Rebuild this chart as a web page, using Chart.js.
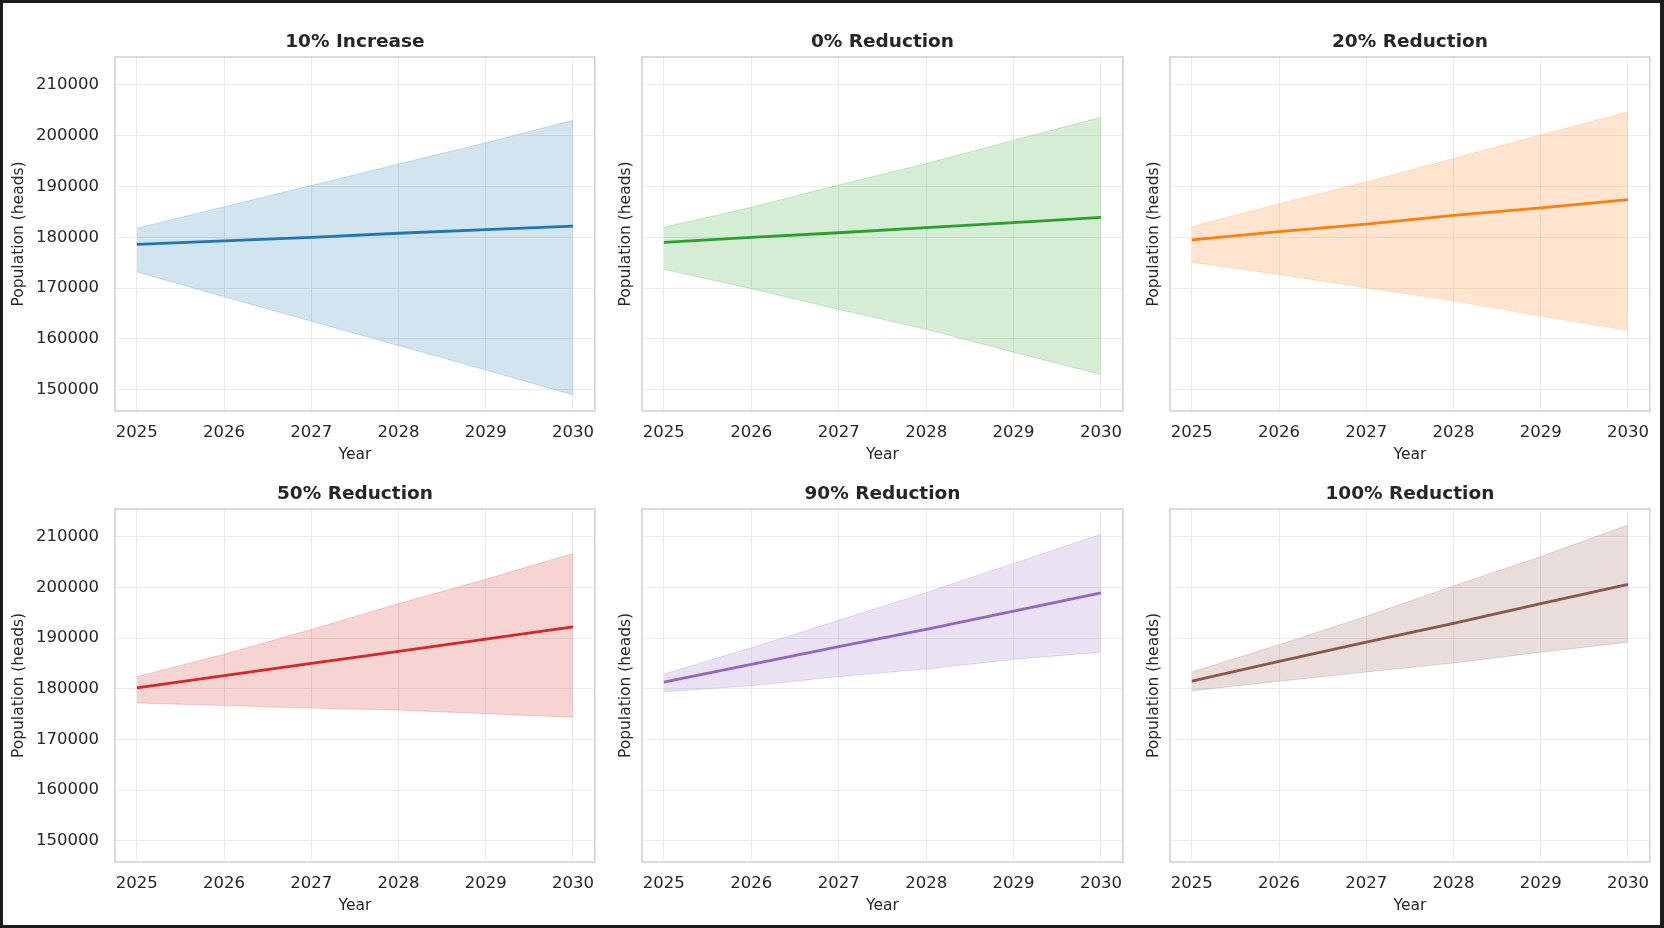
<!DOCTYPE html>
<html>
<head>
<meta charset="utf-8">
<title>Population projections by scenario</title>
<script src="https://cdn.jsdelivr.net/npm/chart.js@4.4.1/dist/chart.umd.min.js"></script>
<style>
  html, body { margin: 0; padding: 0; background: #1c1c1c; }
  #page { position: relative; width: 1664px; height: 928px; overflow: hidden; }
  #sheet { position: absolute; left: 3px; top: 3px; width: 1657px; height: 922px; background: #fff; }
  canvas { position: absolute; }
</style>
</head>
<body>
<div id="page"><div id="sheet"></div></div>
<script>
// data
var years = [2025, 2026, 2027, 2028, 2029, 2030];
var yearTicks = [2025, 2026, 2027, 2028, 2029, 2030];
var popTicks = [150000, 160000, 170000, 180000, 190000, 200000, 210000];
var titles = ['10% Increase', '0% Reduction', '20% Reduction', '50% Reduction', '90% Reduction', '100% Reduction'];

var meanInc10 = [178600, 179300, 180000, 180800, 181500, 182200];
var highInc10 = [181800, 186000, 190200, 194400, 198600, 203000];
var lowInc10  = [173200, 168300, 163500, 158700, 153900, 149000];

var meanRed0 = [179000, 180000, 180900, 181900, 182900, 183900];
var highRed0 = [182000, 185900, 190300, 194500, 199100, 203600];
var lowRed0  = [173700, 169900, 165800, 161900, 157400, 153000];

var meanRed20 = [179500, 181100, 182600, 184300, 185800, 187400];
var highRed20 = [182100, 186600, 190900, 195500, 200100, 204700];
var lowRed20  = [175100, 172700, 170100, 167500, 164500, 161700];

var meanRed50 = [180200, 182600, 185000, 187400, 189800, 192200];
var highRed50 = [182400, 186800, 191700, 196800, 201600, 206700];
var lowRed50  = [177200, 176700, 176200, 175800, 175100, 174400];

var meanRed90 = [181300, 184800, 188300, 191700, 195300, 198900];
var highRed90 = [182900, 188100, 193500, 199000, 204700, 210500];
var lowRed90  = [179400, 180600, 182400, 183900, 185800, 187200];

var meanRed100 = [181500, 185400, 189200, 192900, 196800, 200600];
var highRed100 = [183300, 188700, 194300, 200300, 206100, 212300];
var lowRed100  = [179600, 181500, 183300, 185100, 187200, 189200];

var panels = [
  { mean: meanInc10,  high: highInc10,  low: lowInc10,  color: '#1f77b4' },
  { mean: meanRed0,   high: highRed0,   low: lowRed0,   color: '#2ca02c' },
  { mean: meanRed20,  high: highRed20,  low: lowRed20,  color: '#ff7f0e' },
  { mean: meanRed50,  high: highRed50,  low: lowRed50,  color: '#d62728' },
  { mean: meanRed90,  high: highRed90,  low: lowRed90,  color: '#9467bd' },
  { mean: meanRed100, high: highRed100, low: lowRed100, color: '#8c564b' }
];

// shared y range with a 5% margin, like sharey in the original
var allHigh = Math.max.apply(null, panels.map(function(p) { return Math.max.apply(null, p.high); }));
var allLow = Math.min.apply(null, panels.map(function(p) { return Math.min.apply(null, p.low); }));
var yPad = (allHigh - allLow) * 0.05;
var yMin = allLow - yPad, yMax = allHigh + yPad;

var colLeft = [115, 642, 1170], colRight = [596, 1124, 1651];
var rowTop = [57, 509], rowBottom = [411, 862];
var ink = '#262626';

Chart.defaults.font.family = '"DejaVu Sans", sans-serif';
Chart.defaults.color = ink;

function rgba(hex, a) {
  var n = parseInt(hex.slice(1), 16);
  return 'rgba(' + (n >> 16) + ',' + ((n >> 8) & 255) + ',' + (n & 255) + ',' + a + ')';
}

function points(arr) {
  return years.map(function(yr, i) { return { x: yr, y: arr[i] }; });
}

var boxFrame = {
  id: 'boxFrame',
  beforeDatasetsDraw: function(chart) {
    var a = chart.chartArea, ctx = chart.ctx;
    ctx.save();
    ctx.strokeStyle = '#d2d2d2';
    ctx.lineWidth = 1.6;
    ctx.strokeRect(a.left, a.top, a.right - a.left, a.bottom - a.top);
    ctx.restore();
  }
};

var page = document.getElementById('page');

panels.forEach(function(p, i) {
  var r = Math.floor(i / 3), c = i % 3;
  var yW = c === 0 ? 110 : 30;
  var titleH = 30, xH = 56, padR = 10;
  var cv = document.createElement('canvas');
  cv.width = yW + (colRight[c] - colLeft[c]) + padR;
  cv.height = titleH + (rowBottom[r] - rowTop[r]) + xH;
  cv.style.left = (colLeft[c] - yW) + 'px';
  cv.style.top = (rowTop[r] - titleH) + 'px';
  page.appendChild(cv);

  new Chart(cv, {
    type: 'line',
    data: {
      datasets: [
        { data: points(p.mean), borderColor: p.color, borderWidth: 2.8, pointRadius: 0, fill: false },
        { data: points(p.high), borderColor: rgba(p.color, 0.2), backgroundColor: rgba(p.color, 0.2),
          borderWidth: 1, pointRadius: 0, fill: '+1' },
        { data: points(p.low), borderColor: rgba(p.color, 0.2), borderWidth: 1, pointRadius: 0, fill: false }
      ]
    },
    options: {
      responsive: false,
      animation: false,
      layout: { padding: { left: 0, right: padR, top: 0, bottom: 0 } },
      plugins: {
        legend: { display: false },
        tooltip: { enabled: false },
        title: {
          display: true, text: titles[i], fullSize: false, color: ink,
          font: { size: 18.5, weight: 'bold', lineHeight: '20px' },
          padding: { top: 5, bottom: 5 }
        }
      },
      scales: {
        x: {
          type: 'linear', min: 2024.75, max: 2030.25,
          afterBuildTicks: function(s) { s.ticks = yearTicks.map(function(v) { return { value: v }; }); },
          afterFit: function(s) { s.height = xH; },
          ticks: { callback: function(v) { return String(v); }, padding: 11.5, font: { size: 16.5 },
                   maxRotation: 0, autoSkip: false },
          grid: { color: '#ececec', lineWidth: 1, drawTicks: false },
          border: { display: false },
          title: { display: true, text: 'Year', font: { size: 15.5 }, padding: { top: 0, bottom: 2.5 } }
        },
        y: {
          type: 'linear', min: yMin, max: yMax,
          afterBuildTicks: function(s) { s.ticks = popTicks.map(function(v) { return { value: v }; }); },
          afterFit: function(s) { s.width = yW; },
          ticks: { display: c === 0, callback: function(v) { return String(v); }, padding: 16,
                   font: { size: 16.5 } },
          grid: { color: '#ececec', lineWidth: 1, drawTicks: false },
          border: { display: false },
          title: { display: true, text: 'Population (heads)', font: { size: 15.5 }, padding: { top: 5, bottom: 0 } }
        }
      }
    },
    plugins: [boxFrame]
  });
});
</script>
</body>
</html>
